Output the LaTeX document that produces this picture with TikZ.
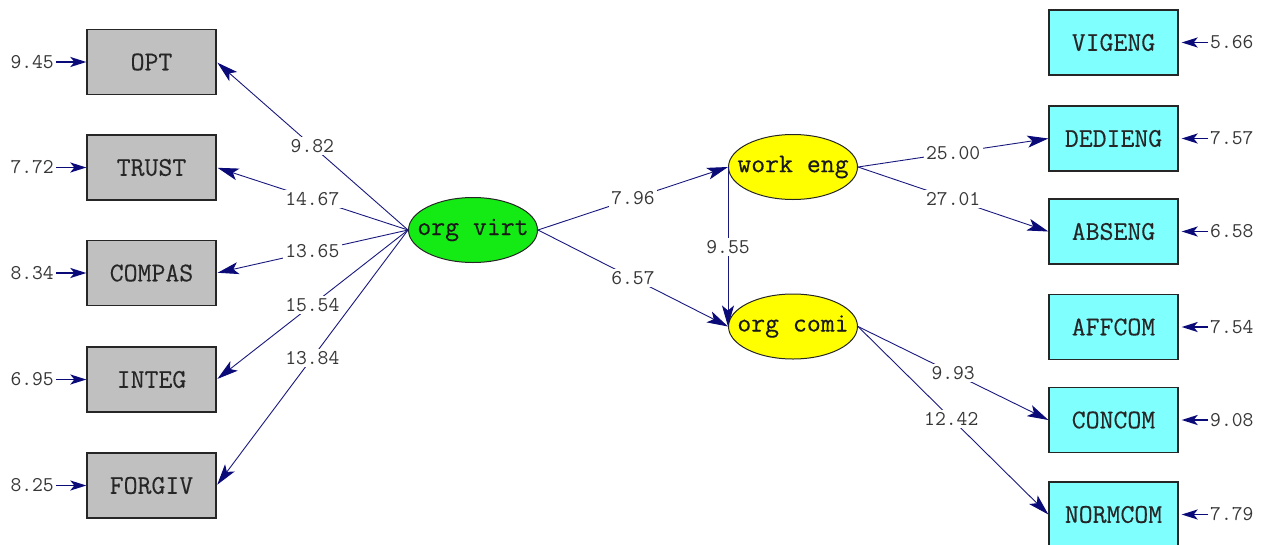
\documentclass[tikz,border=0pt]{standalone}
\usepackage{fontspec}
\newfontfamily\diagfont{Latin Modern Mono}[FakeBold=0.3]
\usetikzlibrary{arrows.meta,shapes.geometric}
\definecolor{navyline}{RGB}{25,25,125}
\definecolor{navytip}{RGB}{10,10,120}
\definecolor{boxgray}{RGB}{192,192,192}
\definecolor{boxcyan}{RGB}{128,255,255}
\definecolor{latgreen}{RGB}{20,235,20}
\definecolor{latyellow}{RGB}{255,255,0}
\definecolor{numtext}{RGB}{55,55,55}
\tikzset{
  obsbox/.style={draw=black!85, line width=1.3pt, minimum width=129pt, minimum height=65pt, inner sep=0pt, font=\diagfont\fontsize{27}{27}\selectfont, text=black!85},
  grayobs/.style={obsbox, fill=boxgray},
  cyanobs/.style={obsbox, fill=boxcyan},
  latent/.style={ellipse, draw=black!85, line width=1pt, minimum width=129pt, minimum height=65pt, inner sep=0pt},
  lattext/.style={font=\diagfont\fontsize{27}{27}\selectfont, text=black!90, inner sep=0pt},
  path/.style={draw=navyline, line width=0.9pt, -{Stealth[length=21pt,width=12pt,inset=5pt,color=navytip]}},
  errpath/.style={draw=navytip, line width=1.8pt, -{Stealth[length=16pt,width=10pt,inset=4pt]}},
  coef/.style={fill=white, inner sep=2.5pt, font=\ttfamily\fontsize{21}{21}\selectfont, text=numtext},
  errlab/.style={inner sep=2pt, font=\ttfamily\fontsize{21}{21}\selectfont, text=numtext}
}
\begin{document}
\begin{tikzpicture}[x=1pt,y=-1pt]
\useasboundingbox (0,0) rectangle (1268,544);
% left observed
\node[grayobs] (opt) at (151.5,62) {OPT};
\node[grayobs] (trust) at (151.5,167.5) {TRUST};
\node[grayobs] (compas) at (151.5,273) {COMPAS};
\node[grayobs] (integ) at (151.5,379.5) {INTEG};
\node[grayobs] (forgiv) at (151.5,485.5) {FORGIV};
% right observed
\node[cyanobs] (vigeng) at (1113.5,42.5) {VIGENG};
\node[cyanobs] (dedieng) at (1113.5,138.5) {DEDIENG};
\node[cyanobs] (abseng) at (1113.5,231.5) {ABSENG};
\node[cyanobs] (affcom) at (1113.5,327) {AFFCOM};
\node[cyanobs] (concom) at (1113.5,420) {CONCOM};
\node[cyanobs] (normcom) at (1113.5,514.5) {NORMCOM};
% latents
\node[latent, fill=latgreen] (ov) at (473,230) {};
\node[lattext] (ovt) at (ov.center) {org virt};
\node[latent, fill=latyellow] (we) at (793,167) {};
\node[lattext] (wet) at (we.center) {work eng};
\node[latent, fill=latyellow] (oc) at (793,326.5) {};
\node[lattext] (oct) at (oc.center) {org comi};
% left paths
\draw[path, shorten >=1pt] (ov.west) -- node[coef]{9.82} (opt.east);
\draw[path, shorten >=1pt] (ov.west) -- node[coef]{14.67} (trust.east);
\draw[path, shorten >=1pt] (ov.west) -- node[coef]{13.65} (compas.east);
\draw[path, shorten >=1pt] (ov.west) -- node[coef]{15.54} (integ.east);
\draw[path, shorten >=1pt] (ov.west) -- node[coef]{13.84} (forgiv.east);
% structural paths
\draw[path] (ov.east) -- node[coef]{7.96} (we.west);
\draw[path] (ov.east) -- node[coef]{6.57} (oc.west);
\draw[path] (we.west) -- node[coef]{9.55} (oc.west);
% right paths
\draw[path] (we.east) -- node[coef]{25.00} (dedieng.west);
\draw[path] (we.east) -- node[coef]{27.01} (abseng.west);
\draw[path] (oc.east) -- node[coef]{9.93} (concom.west);
\draw[path] (oc.east) -- node[coef, pos=0.49]{12.42} (normcom.west);
% left errors
\node[errlab, anchor=east] (eopt) at (56,62) {9.45};
\node[errlab, anchor=east] (etrust) at (56,167.5) {7.72};
\node[errlab, anchor=east] (ecompas) at (56,273) {8.34};
\node[errlab, anchor=east] (einteg) at (56,379.5) {6.95};
\node[errlab, anchor=east] (eforgiv) at (56,485.5) {8.25};
\draw[errpath] (eopt.east) -- (opt.west);
\draw[errpath] (etrust.east) -- (trust.west);
\draw[errpath] (ecompas.east) -- (compas.west);
\draw[errpath] (einteg.east) -- (integ.west);
\draw[errpath] (eforgiv.east) -- (forgiv.west);
% right errors
\node[errlab, anchor=west] (evig) at (1208,42.5) {5.66};
\node[errlab, anchor=west] (eded) at (1208,138.5) {7.57};
\node[errlab, anchor=west] (eabs) at (1208,231.5) {6.58};
\node[errlab, anchor=west] (eaff) at (1208,327) {7.54};
\node[errlab, anchor=west] (econ) at (1208,420) {9.08};
\node[errlab, anchor=west] (enorm) at (1208,514.5) {7.79};
\draw[errpath, shorten >=3pt] (evig.west) -- (vigeng.east);
\draw[errpath, shorten >=3pt] (eded.west) -- (dedieng.east);
\draw[errpath, shorten >=3pt] (eabs.west) -- (abseng.east);
\draw[errpath, shorten >=3pt] (eaff.west) -- (affcom.east);
\draw[errpath, shorten >=3pt] (econ.west) -- (concom.east);
\draw[errpath, shorten >=3pt] (enorm.west) -- (normcom.east);
\end{tikzpicture}
\end{document}
